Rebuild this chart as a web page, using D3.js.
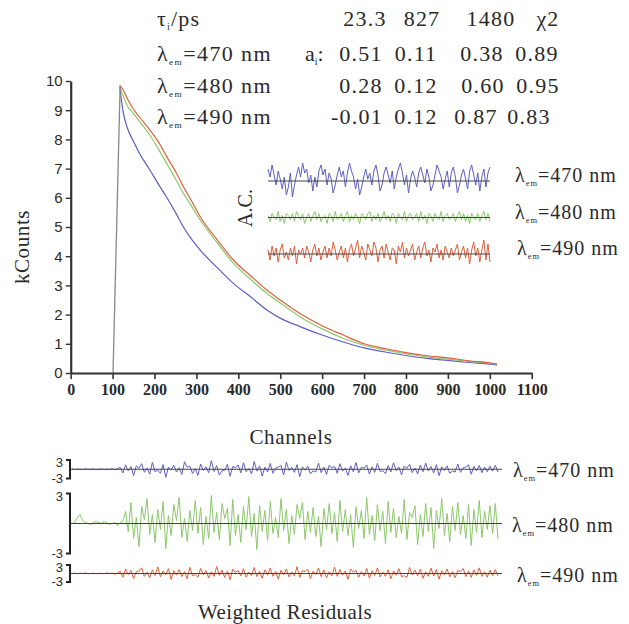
<!DOCTYPE html>
<html>
<head>
<meta charset="utf-8">
<style>
  body { margin: 0; background: #fff; }
  svg { display: block; }
  svg text { font-family: "Liberation Serif", "Times New Roman", Times, "DejaVu Serif", serif; fill: #2a2a2a; }
  svg .sans { font-family: "Liberation Sans", Arial, sans-serif; }
</style>
</head>
<body>
<svg width="629" height="624"></svg>
<script src="https://d3js.org/d3.v7.min.js"></script>
<script>

// ---- data ----
var wavelengths = [470, 480, 490];
var lifetimes = ["23.3", "827", "1480", "χ2"];
var amplitudes = [
  ["0.51", "0.11", "0.38", "0.89"],
  ["0.28", "0.12", "0.60", "0.95"],
  ["-0.01", "0.12", "0.87", "0.83"]
];

var xTicks = [0, 100, 200, 300, 400, 500, 600, 700, 800, 900, 1000, 1100];
var yTicks = [0, 1, 2, 3, 4, 5, 6, 7, 8, 9, 10];

// instrument rise (gray)
var riseChannels = [101, 118];
var riseValues = [0, 9.85];

// decays, kCounts
var decayChannels = [117,125,135,149,165,189,210,229,250,269,290,309,350,388,430,468,500,547,600,650,700,750,800,850,900,950,1000,1017];
var decay470 = [9.8,8.95,8.4,7.95,7.5,6.95,6.45,6.02,5.5,5.0,4.55,4.21,3.6,3.07,2.6,2.16,1.88,1.59,1.3,1.06,0.86,0.72,0.6,0.5,0.43,0.36,0.3,0.27];
var decay480 = [9.8,9.5,9.15,8.9,8.6,8.15,7.65,7.18,6.65,6.15,5.68,5.24,4.45,3.76,3.2,2.73,2.4,1.93,1.51,1.19,0.95,0.79,0.66,0.55,0.47,0.4,0.33,0.3];
var decay490 = [9.85,9.7,9.4,9.05,8.75,8.32,7.9,7.41,6.9,6.38,5.85,5.35,4.55,3.87,3.32,2.84,2.5,2.04,1.62,1.3,1.0,0.84,0.7,0.59,0.52,0.42,0.35,0.31];

// autocorrelation of residuals
var ac470 = [0.06,0.02,0.08,0.03,-0.02,0.05,0.01,-0.04,0.02,-0.07,
  -0.03,0.04,-0.08,-0.02,0.03,0.07,0.02,0.09,0.04,0.06,
  -0.01,0.03,-0.05,0.02,-0.03,0.05,0.08,0.03,0.06,-0.02,
  0.04,0.01,-0.06,-0.02,0.03,0.07,0.02,0.05,-0.03,0.04,
  0.09,0.05,0.02,-0.04,0.01,-0.07,-0.03,0.02,0.06,0.01,
  0.04,-0.02,0.05,0.08,0.03,-0.05,-0.02,0.04,0.07,0.03,
  -0.01,0.05,-0.04,0.02,0.06,0.09,0.04,-0.02,0.03,-0.06,
  0.01,0.05,0.02,-0.03,0.04,0.07,0.03,-0.01,0.06,0.02,
  -0.05,-0.02,0.03,0.08,0.05,0.02,-0.04,0.01,0.05,-0.03,
  0.04,0.07,0.02,-0.06,-0.02,0.03,0.06,0.01,-0.04,0.05,
  0.08,0.03,-0.02,0.04,-0.05,0.02,0.06,-0.03,0.04,0.07];
var ac480 = [0.01,-0.02,0.02,0.00,-0.01,0.03,-0.02,0.01,-0.03,0.02,
  0.01,-0.01,0.02,-0.02,0.03,0.01,-0.01,0.02,-0.03,0.00,
  0.02,-0.02,0.01,0.03,-0.01,0.02,-0.02,0.00,0.01,-0.03,
  0.02,0.01,-0.02,0.03,-0.01,0.00,0.02,-0.02,0.01,0.03,
  -0.02,0.01,-0.01,0.02,0.00,-0.03,0.02,0.01,-0.01,0.02,
  0.03,-0.02,0.01,-0.01,0.02,-0.02,0.00,0.03,-0.01,0.01,
  -0.02,0.02,0.01,-0.03,0.02,0.00,-0.01,0.03,-0.02,0.01,
  0.02,-0.01,0.00,0.02,-0.02,0.03,-0.01,0.01,-0.03,0.02,
  0.01,-0.02,0.02,0.00,-0.01,0.03,-0.02,0.01,0.02,-0.01,
  0.00,0.02,-0.02,0.01,0.03,-0.01,0.02,-0.02,0.01,-0.03,
  0.02,0.00,-0.01,0.02,-0.02,0.01,0.03,-0.01,0.02,-0.02];
var ac490 = [0.02,-0.03,0.04,-0.01,0.03,-0.04,0.02,0.05,-0.02,0.01,
  -0.03,0.03,-0.01,0.04,-0.05,0.02,0.00,0.03,-0.02,0.04,
  0.01,-0.04,0.02,0.05,-0.01,0.03,-0.03,0.01,0.04,-0.02,
  0.03,-0.01,0.06,0.02,-0.03,0.01,0.04,-0.02,0.03,-0.04,
  0.02,0.05,-0.01,0.03,0.07,-0.02,0.04,0.01,-0.03,0.05,
  0.02,-0.01,0.06,0.03,-0.04,0.02,0.04,-0.02,0.05,0.01,
  -0.03,0.03,0.02,-0.05,0.04,0.01,0.06,-0.02,0.03,-0.01,
  0.02,0.05,-0.03,0.01,0.04,-0.02,0.03,0.06,-0.01,0.02,
  -0.04,0.03,0.01,0.05,-0.02,0.02,-0.03,0.04,0.01,-0.02,
  0.03,-0.01,0.02,0.05,-0.03,0.01,0.04,-0.02,0.03,-0.05,
  0.02,0.06,-0.01,0.03,-0.04,0.02,0.07,-0.03,0.05,-0.04];

// weighted residuals
var residual470 = [0.1,-0.1,0.05,0,-0.1,0.1,0,-0.05,0.1,-0.1,0,0.1,-0.1,0.05,0,0.1,-0.1,0.2,
  0.6,-1.2,1.4,-0.5,0.9,-2.1,1.1,0.3,1.8,-1.0,
  0.4,-1.6,2.2,-0.8,-0.3,-1.3,1.5,-2.6,0.7,-0.2,
  1.3,-0.9,0.5,-1.7,2.4,0.6,1.0,-1.4,0.2,-2.0,
  1.7,-0.4,0.8,-1.1,2.8,-0.7,1.2,-1.9,-0.5,-0.3,
  1.6,-2.3,0.9,0.5,1.4,-1.2,2.1,-0.8,0.3,-1.5,
  2.5,-0.6,1.1,-2.2,0.7,-0.9,1.9,-1.3,0.4,0.7,
  1.2,-1.8,2.3,-0.4,0.6,-1.0,1.5,-2.4,0.8,-0.3,
  1.0,-1.5,-0.5,-0.9,2.0,-1.1,0.7,-1.7,1.3,0.5,
  0.9,-1.3,1.8,-0.6,0.4,-2.0,1.1,-0.8,2.2,-1.2,
  0.6,0.4,1.4,-1.6,0.8,-1.0,1.9,-0.7,-0.5,-1.4,
  1.2,-0.9,2.1,-0.5,0.7,-1.8,1.0,0.3,1.6,-1.1,
  0.4,-1.5,1.3,-0.8,2.0,-0.6,0.9,-1.2,1.5,-2.1,
  0.8,-0.4,1.1,-1.3,-0.6,-0.9,1.7,-1.0,0.5,0.7,
  1.4,-1.6,0.9,-0.5,1.2,-1.1,0.7,-0.8,1.0,-0.6,
  1.3,-0.9];
var residual480 = [0,0.1,0.6,0.9,0.3,0.1,0,-0.1,0.1,0.2,0.1,0,0.2,0.1,-0.1,0,0.1,-0.2,0.1,0.3,
  1.2,-0.8,2.1,-1.5,0.6,-2.3,1.7,0.4,2.5,-1.1,
  0.9,-1.9,1.4,-0.6,2.2,-2.5,0.8,-1.2,1.9,0.3,
  2.6,-1.4,0.5,-1.8,1.3,-0.7,2.3,-1.0,1.6,-2.1,
  0.7,-1.5,2.8,-0.9,1.1,-1.6,2.0,0.5,1.5,-2.2,
  2.4,-1.2,0.9,-1.9,1.7,-0.6,2.7,-1.3,1.0,-2.6,
  1.8,-0.8,1.3,-1.7,2.2,-1.0,0.6,-1.4,2.5,-0.7,
  1.4,-2.0,0.8,-1.1,1.9,0.5,2.1,-1.6,1.2,-0.9,
  1.6,-1.3,0.7,-2.3,1.5,-0.6,2.0,-1.0,1.1,-1.8,
  2.3,-0.8,1.4,-1.2,0.9,-2.4,1.7,-0.5,1.3,-1.5,
  2.6,-1.1,0.8,-1.7,1.9,-0.7,1.2,-2.0,2.2,-0.9,
  1.5,-1.4,0.7,-1.0,2.4,-1.6,1.1,0.6,1.8,-2.1,
  0.9,-1.3,2.0,-0.8,1.6,-2.5,1.3,-0.5,2.5,-1.2,
  1.0,-1.8,1.7,-0.7,2.1,-1.1,0.8,-1.5,1.9,-2.2,
  1.4,-0.9,2.3,-1.4,1.2,-0.6,1.8,-1.0,2.0,-1.6];
var residual490 = [0,0.1,-0.1,0.1,0,0.2,-0.1,0,0.1,-0.1,0.1,0,-0.1,0.2,0,0.1,-0.2,0.1,
  0.8,-1.3,1.6,-0.4,1.1,-1.8,0.6,0.9,2.0,-1.0,
  0.5,-1.5,1.3,-0.7,2.3,-1.2,0.9,-0.5,1.7,-2.1,
  1.0,-0.6,1.4,-1.1,0.7,-1.9,2.2,-0.8,-0.4,-1.3,
  1.8,-0.5,1.0,-1.6,0.6,-1.0,2.5,-0.7,1.2,-1.4,
  0.9,-2.2,1.5,0.4,1.1,-0.9,1.7,-1.3,0.5,-0.8,
  2.1,-1.1,0.8,-1.7,1.3,-0.6,1.9,-1.0,0.7,-2.0,
  1.2,-0.5,1.6,-1.2,0.6,-0.9,2.4,-1.4,1.0,0.7,
  1.5,-1.8,0.8,-0.4,1.9,-1.1,1.2,-1.5,0.6,-0.8,
  2.2,-1.0,1.4,-0.6,0.9,-2.1,1.6,0.5,1.1,-1.3,
  0.7,-0.9,1.8,-1.6,1.0,-0.7,2.0,-1.2,0.5,-1.0,
  1.3,-1.9,0.9,-0.6,1.7,-1.1,-0.8,-1.4,2.1,-0.5,
  1.2,-0.8,1.5,-1.7,0.6,-1.0,1.9,-0.9,1.4,-2.0,
  1.0,-0.5,1.6,-1.2,0.7,-1.5,1.1,0.6,1.8,-1.1,
  0.9,-1.4,1.3,-0.7,2.0,-1.0,0.6,-1.3,1.2,-0.8,
  1.4,-0.9];

var decays = [decay470, decay480, decay490];
var acs = [ac470, ac480, ac490];
var residuals = [residual470, residual480, residual490];

// ---- style ----
var colors = ["#5d60c2", "#8dc86c", "#e0603c"];

var svg = d3.select("svg");

// small helper for lambda_em = ### nm labels
function lambdaLabel(g, x, y, nm, size, spacing) {
  var t = g.append("text")
      .attr("x", x)
      .attr("y", y)
      .attr("font-size", size)
      .attr("letter-spacing", spacing);
  t.append("tspan").text("λ");
  t.append("tspan").attr("font-size", size * 0.42).attr("dy", size * 0.2).text("em");
  t.append("tspan").attr("dy", -size * 0.2).text("=" + nm + " nm");
  return t;
}

// ---- table at the top ----
var table = svg.append("g");
var colX = [361, 416, 482, 537];
var headerNudge = [4, 6, 9, 11];
var rowNudge = [[0, 0, 0, 0], [0, 0, 1, 1], [-4, 0, -6, -8]];
var rowY = [61, 93, 124];

var tau = table.append("text").attr("x", 157).attr("y", 26)
    .attr("font-size", 22).attr("letter-spacing", 1.2);
tau.append("tspan").text("τ");
tau.append("tspan").attr("font-size", 10).attr("dy", 4).text("i");
tau.append("tspan").attr("dy", -4).text("/ps");

table.selectAll(".head")
  .data(lifetimes)
  .enter().append("text")
    .attr("class", "head")
    .attr("x", function(d, i) { return colX[i] + headerNudge[i]; })
    .attr("y", 26)
    .attr("font-size", 22)
    .attr("letter-spacing", 1.2)
    .attr("text-anchor", "middle")
    .text(function(d) { return d; });

var ai = table.append("text").attr("x", 305).attr("y", rowY[0])
    .attr("font-size", 22);
ai.append("tspan").text("a");
ai.append("tspan").attr("font-size", 10).attr("dy", 4).text("i");
ai.append("tspan").attr("dy", -4).text(":");

amplitudes.forEach(function(row, r) {
  lambdaLabel(table, 157, rowY[r], wavelengths[r], 22, 1.4);
  table.selectAll(".row" + r)
    .data(row)
    .enter().append("text")
      .attr("x", function(d, i) { return colX[i] + rowNudge[r][i]; })
      .attr("y", rowY[r])
      .attr("font-size", 22)
      .attr("letter-spacing", 1.2)
      .attr("text-anchor", "middle")
      .text(function(d) { return d; });
});

// ---- main decay plot ----
var x = d3.scaleLinear().domain([0, 1100]).range([70.7, 531.7]);
var y = d3.scaleLinear().domain([0, 10]).range([373, 81]);

var line = d3.line()
    .x(function(d) { return x(d[0]); })
    .y(function(d) { return y(d[1]); })
    .curve(d3.curveMonotoneX);

decays.forEach(function(vals, k) {
  svg.append("path")
      .datum(decayChannels.map(function(c, i) { return [c, vals[i]]; }))
      .attr("fill", "none")
      .attr("stroke", colors[k])
      .attr("stroke-width", 1.2)
      .attr("d", line);
});

svg.append("path")
    .datum(riseChannels.map(function(c, i) { return [c, riseValues[i]]; }))
    .attr("fill", "none")
    .attr("stroke", "#8a8a8a")
    .attr("stroke-width", 1.3)
    .attr("d", d3.line().x(function(d) { return x(d[0]); }).y(function(d) { return y(d[1]); }));

var xAxis = svg.append("g")
    .attr("transform", "translate(0," + y(0) + ")")
    .call(d3.axisBottom(x).tickValues(xTicks).tickFormat(d3.format("d"))
      .tickSize(6).tickSizeOuter(0).tickPadding(5));
xAxis.attr("font-family", null).attr("font-size", 16).attr("font-weight", "bold");
xAxis.select(".domain").attr("stroke", "#333").attr("stroke-width", 2.2);
xAxis.selectAll(".tick line").attr("stroke", "#333").attr("stroke-width", 1.6);
xAxis.selectAll(".tick text").attr("fill", "#333");

var yAxis = svg.append("g")
    .attr("transform", "translate(" + x(0) + ",0)")
    .call(d3.axisLeft(y).tickValues(yTicks).tickSize(5).tickSizeOuter(0).tickPadding(3));
yAxis.attr("font-family", null).attr("font-size", 15);
yAxis.select(".domain").attr("stroke", "#333").attr("stroke-width", 2.2);
yAxis.selectAll(".tick line").attr("stroke", "#333").attr("stroke-width", 1.4);
yAxis.selectAll(".tick text").attr("class", "sans").attr("fill", "#333");

svg.append("text")
    .attr("transform", "translate(29,247) rotate(-90)")
    .attr("text-anchor", "middle")
    .attr("font-size", 21)
    .attr("letter-spacing", 0.6)
    .text("kCounts");

svg.append("text")
    .attr("x", 291)
    .attr("y", 444)
    .attr("text-anchor", "middle")
    .attr("font-size", 21)
    .attr("letter-spacing", 0.6)
    .text("Channels");

// ---- autocorrelation inset ----
var acX = d3.scaleLinear().domain([0, ac470.length - 1]).range([268, 490]);
var acBand = d3.scalePoint().domain(wavelengths).range([181, 254]);
var acY = d3.scaleLinear().domain([-0.1, 0.1]).range([20, -20]);

acs.forEach(function(vals, k) {
  var base = acBand(wavelengths[k]);
  svg.append("path")
      .datum(vals)
      .attr("fill", "none")
      .attr("stroke", colors[k])
      .attr("stroke-width", 1)
      .attr("d", d3.line()
        .x(function(d, i) { return acX(i); })
        .y(function(d) { return base + acY(d); }));
  svg.append("line")
      .attr("x1", acX.range()[0]).attr("x2", acX.range()[1])
      .attr("y1", base).attr("y2", base)
      .attr("stroke", "#444").attr("stroke-width", 1.2);
  lambdaLabel(svg, k == 2 ? 517 : 515, base + 1, wavelengths[k], 20, 1);
});

svg.append("text")
    .attr("transform", "translate(252,208) rotate(-90)")
    .attr("text-anchor", "middle")
    .attr("font-size", 20)
    .text("A.C.");

// ---- weighted residuals ----
var resX = d3.scaleLinear().domain([0, residual470.length - 1]).range([72, 498]);
var resBands = [[478.5, 460], [553.5, 493.5], [582, 565]];
var labelX = [513, 512, 517];

residuals.forEach(function(vals, k) {
  var ry = d3.scaleLinear().domain([-3, 3]).range(resBands[k]);
  var g = svg.append("g");

  g.append("path")
      .datum(vals)
      .attr("fill", "none")
      .attr("stroke", colors[k])
      .attr("stroke-width", 1)
      .attr("d", d3.line()
        .x(function(d, i) { return resX(i); })
        .y(function(d) { return ry(d); }));

  g.append("line")
      .attr("x1", 71).attr("x2", 502)
      .attr("y1", ry(0)).attr("y2", ry(0))
      .attr("stroke", "#444").attr("stroke-width", 1.2);

  // bracket showing the -3..3 range
  g.append("path")
      .attr("d", "M66," + ry(3) + "H70V" + ry(-3) + "H66")
      .attr("fill", "none")
      .attr("stroke", "#222")
      .attr("stroke-width", 2);

  g.append("text")
      .attr("class", "sans")
      .attr("x", 63).attr("y", ry(3) + 7)
      .attr("text-anchor", "end")
      .attr("font-size", 13)
      .text("3");
  g.append("text")
      .attr("class", "sans")
      .attr("x", 63).attr("y", ry(-3) + 4)
      .attr("text-anchor", "end")
      .attr("font-size", 13)
      .text("-3");

  lambdaLabel(g, labelX[k], ry(0) + 8, wavelengths[k], 20, 1);
});

svg.append("text")
    .attr("x", 285)
    .attr("y", 619)
    .attr("text-anchor", "middle")
    .attr("font-size", 21)
    .attr("letter-spacing", 0.4)
    .text("Weighted Residuals");

</script>
</body>
</html>
